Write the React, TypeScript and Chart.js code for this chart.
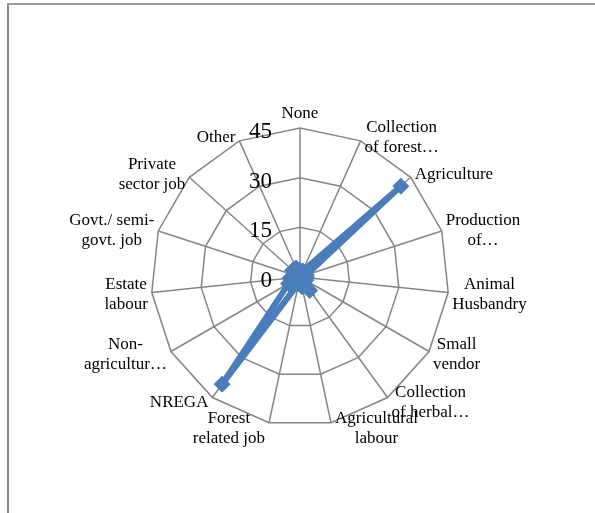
import React, { useEffect, useRef } from "react";
import { Chart, registerables } from "chart.js";

Chart.register(...registerables);

const CATEGORIES: string[][] = [
  ["None"],
  ["Collection", "of forest…"],
  ["Agriculture"],
  ["Production", "of…"],
  ["Animal", "Husbandry"],
  ["Small", "vendor"],
  ["Collection", "of herbal…"],
  ["Agricultural", "labour"],
  ["Forest", "related job"],
  ["NREGA"],
  ["Non-", "agricultur…"],
  ["Estate", "labour"],
  ["Govt./ semi-", "govt. job"],
  ["Private", "sector job"],
  ["Other"],
];

const VALUES: number[] = [2, 2, 41, 2, 2, 2, 5, 3, 2, 40, 4, 3, 2, 3, 3];

const TICKS: number[] = [0, 15, 30, 45];

const LABEL_FONT = "17px 'Liberation Serif', 'Times New Roman', serif";
const TICK_FONT = "23px 'Liberation Serif', 'Times New Roman', serif";
const LINE_H = 20;

const customLabels = {
  id: "customLabels",
  afterDraw(chart: any) {
    const scale = chart.scales.r;
    const ctx = chart.ctx;
    ctx.save();
    // tick labels, right aligned left of the first axis
    ctx.font = TICK_FONT;
    ctx.fillStyle = "#000";
    ctx.textAlign = "right";
    ctx.textBaseline = "alphabetic";
    TICKS.forEach((t) => {
      const d = scale.getDistanceFromCenterForValue(t);
      ctx.fillText(String(t), scale.xCenter - 28, scale.yCenter - d + 10);
    });
    // point labels
    ctx.font = LABEL_FONT;
    const n = CATEGORIES.length;
    for (let i = 0; i < n; i++) {
      const lines = CATEGORIES[i];
      const p = scale.getPointPosition(i, scale.drawingArea);
      const theta = (i / n) * Math.PI * 2;
      const s = Math.sin(theta);
      const c = Math.cos(theta);
      const widths = lines.map((l: string) => ctx.measureText(l).width);
      const w = Math.max(...widths);
      const h = lines.length * LINE_H;
      let cx: number;
      if (Math.abs(s) < 0.01) cx = p.x;
      else if (s > 0) cx = p.x + 4 + w / 2;
      else cx = p.x - 4 - w / 2;
      let top: number;
      if (i === 0) top = p.y - 5 - h;
      else top = p.y - 5 * c - h / 2;
      ctx.textAlign = "center";
      ctx.textBaseline = "middle";
      lines.forEach((l: string, k: number) => {
        ctx.fillText(l, cx, top + LINE_H * k + LINE_H / 2 + 1);
      });
    }
    ctx.restore();
  },
};

export default function App() {
  const ref = useRef<HTMLCanvasElement>(null);
  useEffect(() => {
    if (!ref.current) return;
    const chart = new Chart(ref.current, {
      type: "radar",
      data: {
        labels: CATEGORIES.map((l) => l.join(" ")),
        datasets: [
          {
            data: VALUES,
            borderColor: "#4a7ebb",
            backgroundColor: "#4a7ebb",
            borderWidth: 6,
            fill: false,
            pointStyle: "rectRot",
            pointRadius: 8,
            pointBackgroundColor: "#4a7ebb",
            pointBorderColor: "#4a7ebb",
            pointBorderWidth: 1,
          },
        ],
      },
      options: {
        responsive: false,
        animation: false,
        devicePixelRatio: 1,
        layout: { padding: { left: 151, right: 146, top: 128, bottom: 87 } },
        plugins: { legend: { display: false }, tooltip: { enabled: false } },
        scales: {
          r: {
            min: 0,
            max: 45,
            beginAtZero: true,
            ticks: { display: false, stepSize: 15 },
            pointLabels: { display: false },
            grid: { color: "#868686", lineWidth: 1.5 },
            angleLines: { color: "#868686", lineWidth: 1.5 },
          },
        },
      },
      plugins: [customLabels],
    });
    return () => chart.destroy();
  }, []);
  return (
    <div style={{ position: "absolute", left: 0, top: 0, width: 595, height: 513, background: "#fff" }}>
      <div style={{ position: "absolute", left: 7, top: 3, width: 2, height: 510, background: "#888" }} />
      <div style={{ position: "absolute", left: 7, top: 3, width: 588, height: 2, background: "#999" }} />
      <canvas ref={ref} width={595} height={513} style={{ position: "absolute", left: 0, top: 0 }} />
    </div>
  );
}
